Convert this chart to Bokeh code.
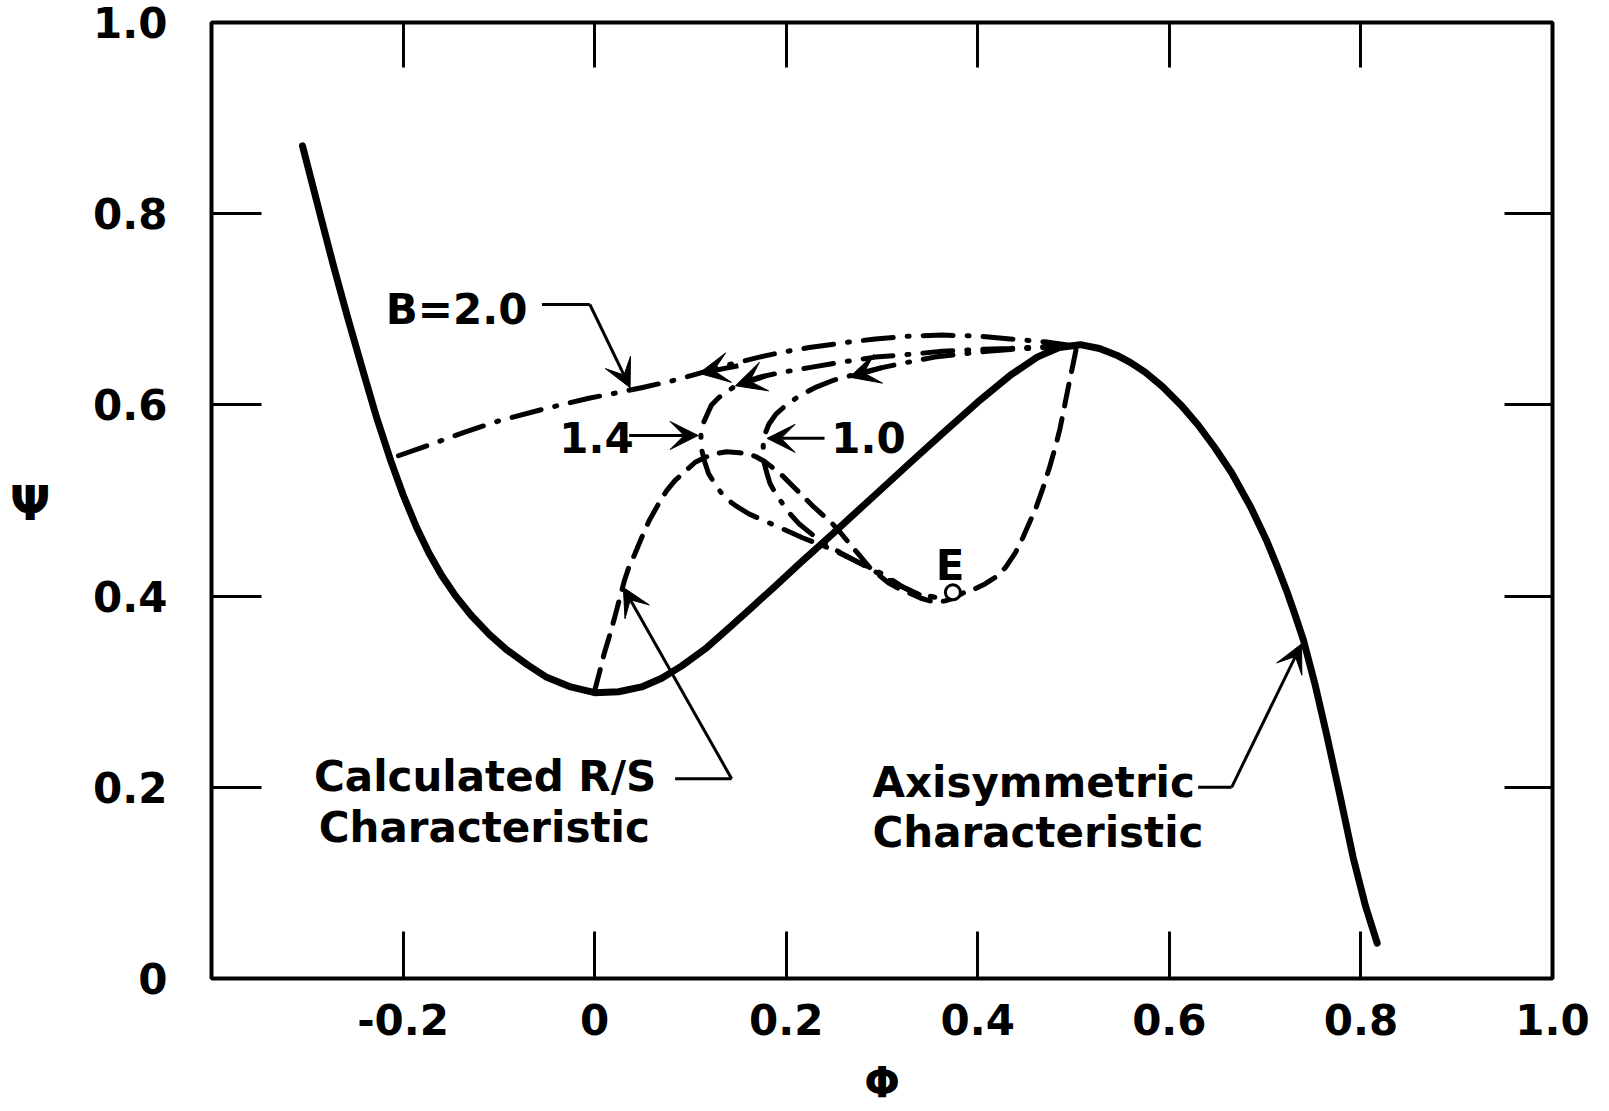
from bokeh.plotting import figure
from bokeh.models import Range1d, FixedTicker, LinearAxis, Label, Arrow, VeeHead
from bokeh.embed import file_html
from bokeh.resources import INLINE

# ---------------- data ----------------
# Axisymmetric characteristic (solid)
axi_phi = [-0.305, -0.295, -0.285, -0.272, -0.258, -0.242, -0.228, -0.213, -0.200, -0.186,
           -0.173, -0.160, -0.145, -0.129, -0.110, -0.092, -0.070, -0.050, -0.025, 0.000,
           0.025, 0.049, 0.070, 0.091, 0.117, 0.143, 0.165, 0.188, 0.215, 0.245,
           0.270, 0.293, 0.330, 0.363, 0.400, 0.434, 0.462, 0.485, 0.507, 0.527,
           0.545, 0.560, 0.575, 0.593, 0.612, 0.630, 0.647, 0.665, 0.685, 0.702,
           0.713, 0.723, 0.731, 0.740, 0.752, 0.764, 0.778, 0.792, 0.805, 0.817]
axi_psi = [0.871, 0.832, 0.793, 0.743, 0.692, 0.636, 0.588, 0.542, 0.506, 0.472,
           0.445, 0.422, 0.400, 0.380, 0.360, 0.344, 0.328, 0.315, 0.305, 0.299,
           0.300, 0.305, 0.314, 0.327, 0.346, 0.369, 0.389, 0.410, 0.435, 0.462,
           0.485, 0.506, 0.540, 0.570, 0.603, 0.631, 0.650, 0.660, 0.663, 0.659,
           0.652, 0.644, 0.634, 0.619, 0.600, 0.579, 0.556, 0.529, 0.493, 0.457,
           0.430, 0.404, 0.381, 0.354, 0.308, 0.256, 0.192, 0.126, 0.075, 0.037]

# Calculated R/S characteristic (dashed)
rs_phi = [0.000, 0.005, 0.010, 0.016, 0.021, 0.026, 0.031, 0.036, 0.042, 0.049, 0.057, 0.067,
          0.075, 0.084, 0.095, 0.105, 0.115, 0.126, 0.138, 0.151, 0.160, 0.168, 0.177, 0.185,
          0.196, 0.206, 0.217, 0.227, 0.238, 0.248, 0.257, 0.266, 0.277, 0.287, 0.298, 0.308,
          0.319, 0.329, 0.340, 0.350, 0.358, 0.366, 0.375, 0.384, 0.396, 0.408, 0.419, 0.429,
          0.439, 0.447, 0.454, 0.461, 0.468, 0.475, 0.481, 0.486, 0.491, 0.496, 0.500, 0.503]
rs_psi = [0.301, 0.320, 0.340, 0.360, 0.378, 0.397, 0.416, 0.431, 0.444, 0.461, 0.479, 0.497,
          0.510, 0.521, 0.531, 0.540, 0.545, 0.549, 0.551, 0.550, 0.549, 0.546, 0.541, 0.535,
          0.526, 0.516, 0.505, 0.495, 0.485, 0.476, 0.466, 0.455, 0.442, 0.430, 0.421, 0.413,
          0.407, 0.403, 0.398, 0.395, 0.394, 0.395, 0.398, 0.403, 0.407, 0.413, 0.420, 0.430,
          0.445, 0.461, 0.477, 0.493, 0.513, 0.535, 0.556, 0.576, 0.601, 0.626, 0.645, 0.660]

# Transient trajectories (dash-dot), B = 2.0, 1.4, 1.0
b20_phi = [0.499, 0.470, 0.434, 0.400, 0.363, 0.330, 0.293, 0.260, 0.224, 0.195, 0.172,
           0.140, 0.109, 0.080, 0.049, 0.020, -0.006, -0.052, -0.101, -0.137, -0.170, -0.210]
b20_psi = [0.662, 0.666, 0.669, 0.672, 0.673, 0.672, 0.669, 0.665, 0.660, 0.655, 0.650,
           0.642, 0.633, 0.625, 0.618, 0.612, 0.607, 0.596, 0.583, 0.571, 0.559, 0.545]

b14_phi = [0.499, 0.470, 0.434, 0.400, 0.363, 0.330, 0.293, 0.260, 0.224, 0.195, 0.172,
           0.147, 0.130, 0.122, 0.117, 0.113, 0.111, 0.111, 0.112, 0.115, 0.119, 0.127,
           0.136, 0.148, 0.161, 0.188, 0.217, 0.245, 0.272, 0.301, 0.321, 0.340, 0.360]
b14_psi = [0.662, 0.661, 0.659, 0.658, 0.656, 0.653, 0.650, 0.645, 0.639, 0.634, 0.629,
           0.620, 0.608, 0.600, 0.589, 0.580, 0.570, 0.561, 0.552, 0.540, 0.528, 0.515,
           0.503, 0.494, 0.486, 0.474, 0.461, 0.450, 0.437, 0.423, 0.410, 0.401, 0.398]

b10_phi = [0.499, 0.470, 0.434, 0.410, 0.381, 0.355, 0.329, 0.300, 0.276, 0.250, 0.230,
           0.213, 0.199, 0.189, 0.182, 0.178, 0.176, 0.176, 0.177, 0.180, 0.183, 0.189,
           0.196, 0.204, 0.213, 0.235, 0.259, 0.287, 0.314, 0.335, 0.355]
b10_psi = [0.662, 0.660, 0.658, 0.656, 0.653, 0.650, 0.645, 0.639, 0.633, 0.626, 0.618,
           0.609, 0.599, 0.590, 0.580, 0.570, 0.561, 0.550, 0.539, 0.528, 0.518, 0.507,
           0.497, 0.486, 0.476, 0.458, 0.444, 0.429, 0.413, 0.403, 0.399]

# Point E
e_phi = [0.374]
e_psi = [0.404]

# Ticks and tick labels
x_ticks = [-0.2, 0.0, 0.2, 0.4, 0.6, 0.8, 1.0]
x_tick_labels = ["-0.2", "0", "0.2", "0.4", "0.6", "0.8", "1.0"]
y_ticks = [0.0, 0.2, 0.4, 0.6, 0.8, 1.0]
y_tick_labels = ["0", "0.2", "0.4", "0.6", "0.8", "1.0"]

# ---------------- figure ----------------
FONT = "DejaVu Sans"
FS = "42px"

p = figure(width=1600, height=1111, x_range=Range1d(-0.4, 1.0), y_range=Range1d(0.0, 1.0),
           output_backend="svg", toolbar_location=None,
           min_border_left=211, min_border_right=48, min_border_top=22, min_border_bottom=133)
p.title.visible = False
p.grid.visible = False
p.outline_line_color = "black"
p.outline_line_width = 4
p.background_fill_color = "white"
p.border_fill_color = "white"


def style_axis(ax, ticks, labels, show_labels, tick_len, standoff):
    ax.ticker = FixedTicker(ticks=ticks)
    ax.major_label_overrides = {t: l for t, l in zip(ticks, labels)}
    ax.minor_tick_line_color = None
    ax.axis_line_color = None
    ax.major_tick_in = tick_len
    ax.major_tick_out = 0
    ax.major_tick_line_width = 3
    ax.major_tick_line_color = "black"
    ax.major_label_standoff = standoff
    ax.major_label_text_font = FONT
    ax.major_label_text_font_style = "bold"
    if show_labels:
        ax.major_label_text_font_size = FS
        ax.major_label_text_color = "black"
    else:
        ax.major_label_text_font_size = "1px"
        ax.major_label_text_color = None


xb = p.xaxis[0]
style_axis(xb, x_ticks, x_tick_labels, True, 47, 25)
xb.axis_label = "Φ"
xb.axis_label_text_font = FONT
xb.axis_label_text_font_size = FS
xb.axis_label_text_font_style = "bold"
xb.axis_label_text_color = "black"
xb.axis_label_standoff = 20

style_axis(p.yaxis[0], y_ticks, y_tick_labels, True, 50, 44)

# outer left axis carrying the horizontal "Ψ" title
psi_ax = LinearAxis()
style_axis(psi_ax, [0.497], ["Ψ"], True, 0, 40)
psi_ax.major_label_text_font_size = "48px"
psi_ax.major_tick_line_color = None
p.add_layout(psi_ax, "left")

top_ax = LinearAxis()
style_axis(top_ax, x_ticks[:-1], x_tick_labels[:-1], False, 45, 0)
p.add_layout(top_ax, "above")
right_ax = LinearAxis()
style_axis(right_ax, y_ticks[1:-1], y_tick_labels[1:-1], False, 48, 0)
p.add_layout(right_ax, "right")

# ---------------- curves ----------------
DASHDOT = "30 14 2 14"
p.line(axi_phi, axi_psi, line_color="black", line_width=7, line_join="round", line_cap="round")
p.line(rs_phi, rs_psi, line_color="black", line_width=5, line_dash="22 13", line_cap="round",
       line_join="round")
for xs, ys in ((b20_phi, b20_psi), (b14_phi, b14_psi), (b10_phi, b10_psi)):
    p.line(xs, ys, line_color="black", line_width=5, line_dash=DASHDOT, line_cap="round",
           line_join="round")

p.scatter(e_phi, e_psi, marker="circle", size=15, fill_color="white", line_color="black",
          line_width=3)


def arrow(x0, y0, x1, y1, size=28, lw=3):
    p.add_layout(Arrow(end=VeeHead(size=size, fill_color="black", line_color="black", line_width=1),
                       x_start=x0, y_start=y0, x_end=x1, y_end=y1,
                       line_color="black", line_width=lw))


# direction arrows on the dash-dot trajectories
arrow(0.150, 0.641, 0.109, 0.633, size=30, lw=5)
arrow(0.178, 0.630, 0.147, 0.620, size=30, lw=5)
arrow(0.300, 0.639, 0.266, 0.629, size=30, lw=5)

# ---------------- annotations ----------------
def label(x, y, text, align="left"):
    p.add_layout(Label(x=x, y=y, text=text, text_font=FONT, text_font_size=FS,
                       text_font_style="bold", text_color="black", text_align=align,
                       text_baseline="middle"))


label(-0.218, 0.700, "B=2.0")
p.line([-0.055, -0.005], [0.705, 0.705], line_color="black", line_width=3)
arrow(-0.005, 0.705, 0.037, 0.618)

label(-0.037, 0.566, "1.4")
arrow(0.036, 0.568, 0.108, 0.568)

label(0.247, 0.566, "1.0")
arrow(0.240, 0.565, 0.180, 0.565)

label(0.371, 0.432, "E", align="center")

label(-0.293, 0.211, "Calculated R/S")
label(-0.288, 0.158, "Characteristic")
p.line([0.084, 0.143], [0.209, 0.209], line_color="black", line_width=3)
arrow(0.143, 0.209, 0.030, 0.409)

label(0.290, 0.205, "Axisymmetric")
label(0.290, 0.153, "Characteristic")
p.line([0.630, 0.665], [0.200, 0.200], line_color="black", line_width=3)
arrow(0.665, 0.200, 0.738, 0.350)

open("out.html", "w").write(file_html(p, INLINE))
